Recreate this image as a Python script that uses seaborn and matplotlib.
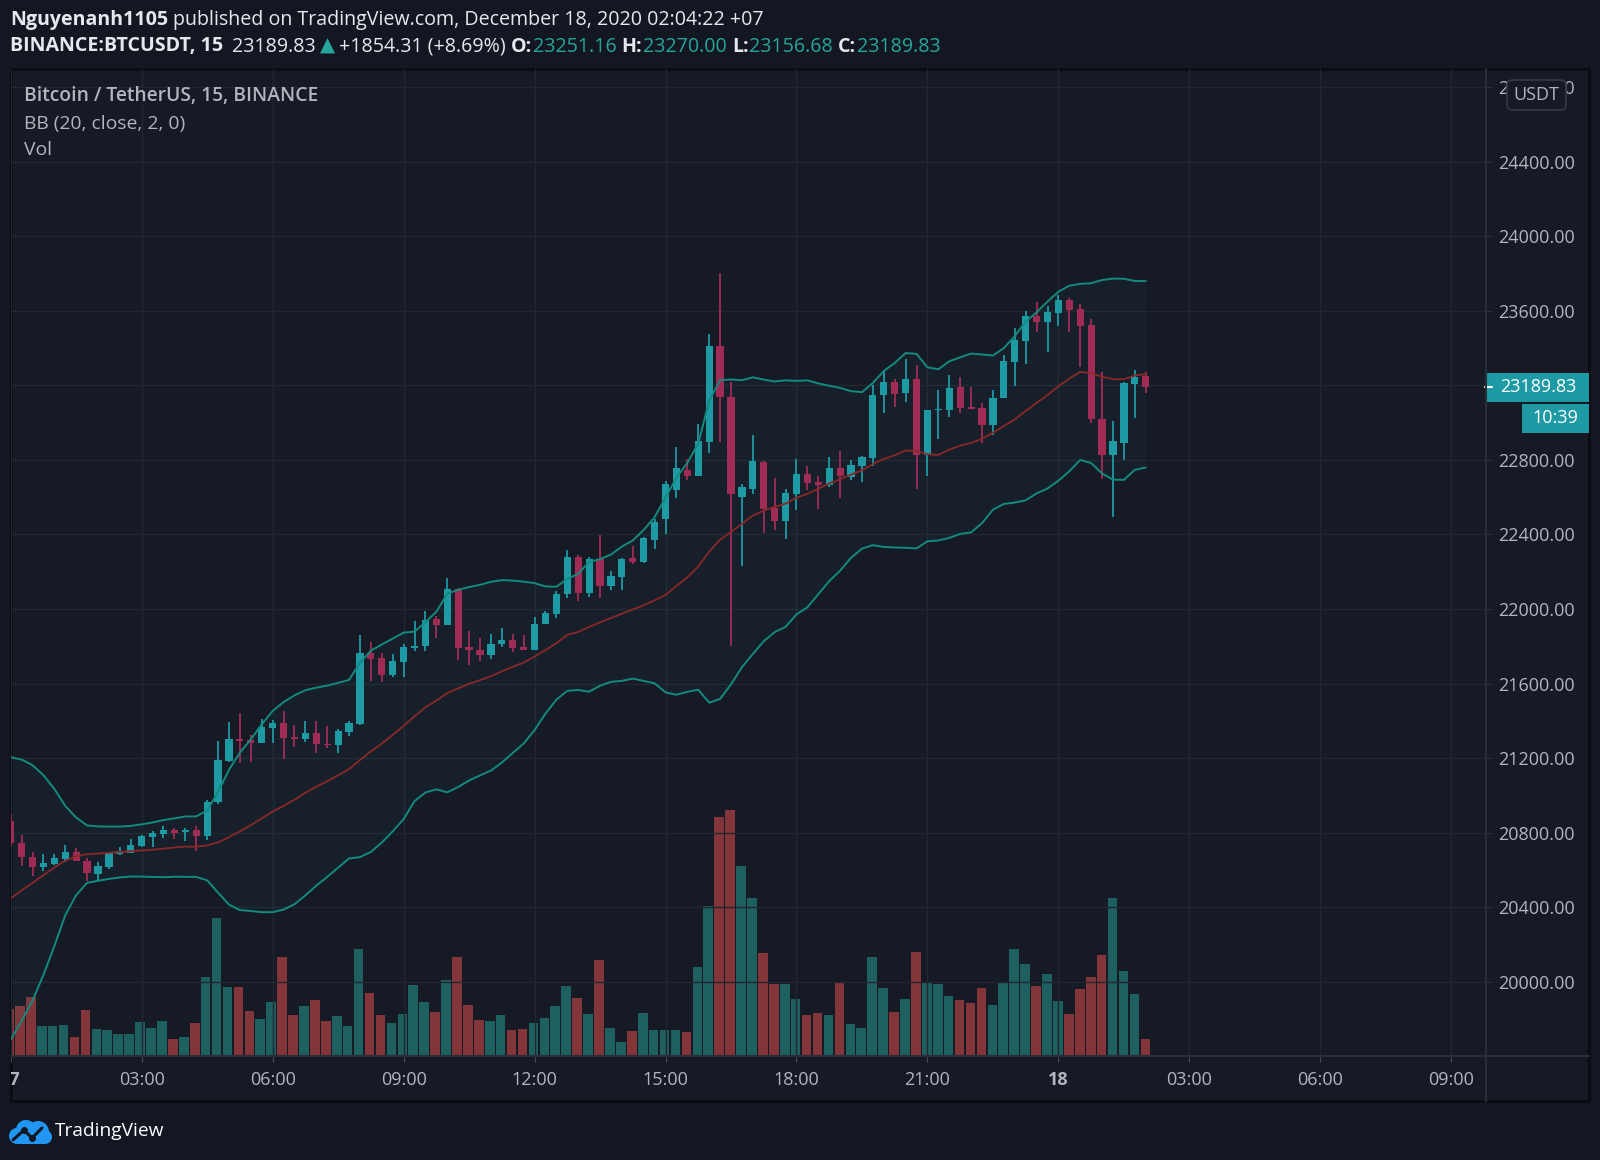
import numpy as np
import pandas as pd
import matplotlib.pyplot as plt
from matplotlib.patches import Rectangle, FancyBboxPatch, Circle
from matplotlib.lines import Line2D
from matplotlib.transforms import blended_transform_factory
import seaborn as sns

# BINANCE BTCUSDT, 15 min candles, Dec 17 00:00 -> Dec 18 02:00 (UTC+7)
opens = [20860, 20743, 20671, 20614, 20632, 20657, 20696, 20648, 20578, 20614,
         20685, 20693, 20730, 20779, 20793, 20814, 20802, 20814, 20784, 20963,
         21187, 21301, 21297, 21283, 21360, 21387, 21312, 21305, 21334, 21278,
         21269, 21342, 21383, 21764, 21737, 21646, 21715, 21791, 21799, 21946,
         21913, 22109, 21795, 21782, 21751, 21810, 21833, 21795, 21782, 21922,
         21973, 22078, 22281, 22085, 22270, 22126, 22172, 22276, 22254, 22371,
         22481, 22639, 22748, 22713, 22898, 23409, 23136, 22603, 22645, 22789,
         22541, 22472, 22617, 22726, 22680, 22666, 22754, 22707, 22767, 22808,
         23147, 23219, 23157, 23232, 22827, 23067, 23067, 23192, 23085, 23080,
         22987, 23131, 23325, 23440, 23573, 23539, 23587, 23659, 23611, 23525,
         23019, 22827, 22891, 23205, 23251.16]
highs = [20900, 20787, 20698, 20684, 20684, 20734, 20719, 20666, 20644, 20698,
         20725, 20764, 20787, 20809, 20838, 20823, 20823, 20838, 20975, 21289,
         21391, 21441, 21324, 21409, 21405, 21450, 21378, 21401, 21401, 21371,
         21356, 21401, 21860, 21822, 21764, 21759, 21810, 21937, 21991, 21964,
         22169, 22115, 21882, 21842, 21864, 21897, 21864, 21860, 21958, 21987,
         22096, 22314, 22290, 22281, 22399, 22202, 22276, 22339, 22385, 22481,
         22685, 22871, 22803, 22991, 23477, 23805, 23218, 22672, 22931, 22795,
         22705, 22645, 22803, 22767, 22713, 22814, 22849, 22800, 22822, 23204,
         23280, 23232, 23344, 23307, 23067, 23173, 23253, 23245, 23192, 23104,
         23173, 23365, 23507, 23600, 23645, 23627, 23685, 23667, 23637, 23557,
         23272, 23011, 23219, 23280, 23270.00]
lows = [20730, 20623, 20569, 20594, 20626, 20641, 20648, 20540, 20540, 20605,
        20680, 20689, 20721, 20725, 20773, 20764, 20757, 20703, 20761, 20951,
        21181, 21172, 21181, 21280, 21280, 21194, 21262, 21287, 21225, 21256,
        21229, 21316, 21375, 21614, 21606, 21637, 21637, 21777, 21774, 21846,
        21913, 21728, 21697, 21719, 21733, 21795, 21770, 21782, 21782, 21918,
        21951, 22060, 22045, 22066, 22058, 22104, 22104, 22240, 22246, 22322,
        22404, 22598, 22694, 22713, 22836, 22898, 21804, 22230, 22617, 22407,
        22426, 22377, 22530, 22639, 22535, 22653, 22598, 22694, 22680, 22767,
        23051, 23085, 23112, 22645, 22712, 22912, 23032, 23051, 23075, 22891,
        22933, 23131, 23197, 23317, 23485, 23379, 23517, 23485, 23299, 22997,
        22699, 22493, 22800, 23027, 23156.68]
closes = [20745, 20668, 20617, 20635, 20662, 20698, 20650, 20582, 20623, 20689,
          20702, 20734, 20782, 20800, 20814, 20800, 20814, 20784, 20966, 21190,
          21301, 21294, 21283, 21366, 21387, 21310, 21303, 21334, 21278, 21271,
          21347, 21387, 21764, 21733, 21646, 21719, 21795, 21800, 21940, 21915,
          22109, 21791, 21780, 21751, 21813, 21833, 21791, 21782, 21922, 21976,
          22082, 22281, 22085, 22270, 22126, 22175, 22270, 22254, 22380, 22467,
          22672, 22754, 22713, 22904, 23409, 23136, 22617, 22653, 22795, 22535,
          22472, 22623, 22726, 22677, 22666, 22754, 22713, 22773, 22814, 23150,
          23219, 23152, 23232, 22827, 23067, 23075, 23184, 23080, 23075, 22987,
          23133, 23331, 23445, 23573, 23539, 23592, 23659, 23605, 23520, 23019,
          22827, 22899, 23211, 23245, 23189.83]
volumes = [940, 986, 1174, 586, 586, 606, 366, 920, 540, 520,
           434, 434, 666, 554, 700, 340, 366, 646, 1566, 2760,
           1380, 1380, 886, 726, 1080, 1980, 812, 1000, 1114, 690,
           798, 588, 2140, 1250, 818, 656, 832, 1420, 1068, 872,
           1506, 1966, 1020, 722, 690, 818, 506, 528, 656, 750,
           1000, 1386, 1154, 830, 1908, 560, 276, 500, 846, 510,
           510, 510, 480, 1766, 3000, 4760, 4908, 3786, 3154, 2052,
           1428, 1428, 1142, 816, 858, 816, 1470, 642, 560, 1974,
           1350, 864, 1142, 2076, 1460, 1440, 1192, 1112, 1044, 1360,
           1014, 1480, 2126, 1838, 1390, 1630, 1102, 834, 1342, 1580,
           2016, 3150, 1690, 1232, 338]
# closes of the 19 candles before the first one on screen (only warm up the bands)
pre_closes = [19800, 19820, 19800, 19850, 19950, 20200, 20350, 20560, 20600, 20620,
              20650, 20700, 20720, 20700, 20680, 20720, 20780, 20840, 20860]

time_labels = ['17', '03:00', '06:00', '09:00', '12:00', '15:00', '18:00',
               '21:00', '18', '03:00', '06:00', '09:00']
time_label_pos = list(range(0, 133, 12))
price_ticks = list(range(20000, 24801, 400))

PAGE = '#131722'
PANEL = '#161a25'
BORDER = '#0a0c12'
GRID = '#222631'
SEP = '#2a2e39'
TEXT = '#b2b5be'
WHITE = '#e6e8ee'
UP = '#1d9aa3'
DOWN = '#a02c56'
VOL_UP = '#26a69a'
VOL_DOWN = '#ef5350'
BB_EDGE = '#138a7e'
BB_MID = '#8a2828'
HEAD_TEAL = '#26a69a'

sns.set_style('dark')
plt.rcParams['font.family'] = ['Open Sans', 'DejaVu Sans']

df = pd.DataFrame({'open': opens, 'high': highs, 'low': lows,
                   'close': closes, 'volume': volumes})
df['idx'] = np.arange(len(df))
df['up'] = df['close'] >= df['open']

all_close = pd.Series(pre_closes + closes)
mid = all_close.rolling(20).mean()
sd = all_close.rolling(20).std(ddof=0)
n_pre = len(pre_closes)
df['bb_mid'] = mid.iloc[n_pre:].to_numpy()
df['bb_up'] = (mid + 2 * sd).iloc[n_pre:].to_numpy()
df['bb_lo'] = (mid - 2 * sd).iloc[n_pre:].to_numpy()

W, H = 1600, 1160
fig = plt.figure(figsize=(W / 100, H / 100), dpi=100, facecolor=PAGE)


def fbox(l, t, r, b):
    return [l / W, 1 - b / H, (r - l) / W, (b - t) / H]


L, T, R, B = 10.7, 69.3, 1589, 1101
SEP_X, AXIS_Y = 1485.7, 1055.7
XLIM = (0.16, 135.15)
YLIM = (19603, 24896)

fig.add_artist(Rectangle((L / W, 1 - B / H), (R - L) / W, (B - T) / H,
                         transform=fig.transFigure, facecolor=PANEL,
                         edgecolor=BORDER, lw=2, zorder=0))

# volume pane (behind)
axv = fig.add_axes(fbox(L, T, SEP_X, AXIS_Y))
axv.patch.set_visible(False)
vol_colors = np.where(df['up'], VOL_UP, VOL_DOWN)
axv.bar(df['idx'], df['volume'], width=0.88, color=vol_colors, alpha=0.5, linewidth=0)
axv.set_xlim(XLIM)
axv.set_ylim(0, df['volume'].max() / 0.249)
axv.axis('off')

# price pane
ax = fig.add_axes(fbox(L, T, SEP_X, AXIS_Y))
ax.patch.set_visible(False)
ax.set_axisbelow(True)
ax.grid(True, color=GRID, lw=1)
for s in ax.spines.values():
    s.set_visible(False)

ax.fill_between(df['idx'], df['bb_lo'], df['bb_up'], color='#2a9d8f', alpha=0.05, lw=0, zorder=1)

candle_colors = np.where(df['up'], UP, DOWN)
ax.vlines(df['idx'], df['low'], df['high'], colors=candle_colors, lw=1.3, zorder=3)
body_bottom = np.minimum(df['open'], df['close'])
body_h = np.maximum((df['close'] - df['open']).abs(), 6)
ax.bar(df['idx'], body_h, bottom=body_bottom, width=0.66, color=candle_colors,
       linewidth=0, zorder=4)

sns.lineplot(data=df, x='idx', y='bb_up', ax=ax, color=BB_EDGE, lw=1.4, zorder=5)
sns.lineplot(data=df, x='idx', y='bb_lo', ax=ax, color=BB_EDGE, lw=1.4, zorder=5)
sns.lineplot(data=df, x='idx', y='bb_mid', ax=ax, color=BB_MID, lw=1.3, zorder=5)

ax.set_xlim(XLIM)
ax.set_ylim(YLIM)
ax.set_xlabel('')
ax.set_ylabel('')
ax.set_xticks(time_label_pos)
ax.tick_params(axis='x', length=0, labelbottom=False)
ax.yaxis.tick_right()
ax.set_yticks(price_ticks)
ax.set_yticklabels([f'{p:.2f}' for p in price_ticks])
ax.tick_params(axis='y', length=4.3, width=1, color=SEP, labelsize=13,
               labelcolor=TEXT, pad=5)

# last price + countdown labels
blend = blended_transform_factory(ax.transAxes, ax.transData)
last = df['close'].iloc[-1]
px = (YLIM[1] - YLIM[0]) / (AXIS_Y - T)
ax.add_patch(Rectangle((0.9995, last - 14.5 * px), 0.0705, 29 * px, transform=blend,
                       facecolor=UP, edgecolor='none', clip_on=False, zorder=10))
ax.plot([0.9995, 1.0045], [last, last], transform=blend, color='white', lw=1.5,
        clip_on=False, zorder=11)
ax.text(1.0355, last, f'{last:.2f}', transform=blend, ha='center', va='center',
        color='white', fontsize=13, clip_on=False, zorder=11)
cd = last - 31 * px
ax.add_patch(Rectangle((1.0246, cd - 14.5 * px), 0.0454, 29 * px, transform=blend,
                       facecolor=UP, edgecolor='none', clip_on=False, zorder=10))
ax.text(1.0473, cd, '10:39', transform=blend, ha='center', va='center',
        color='white', fontsize=13, clip_on=False, zorder=11)

# currency badge (covers the top price label, as in the app)
fig.add_artist(FancyBboxPatch((1507 / W, 1 - 110 / H), 59 / W, 30 / H,
                              boxstyle='round,pad=0,rounding_size=0.004',
                              transform=fig.transFigure, facecolor=PANEL,
                              edgecolor='#363a45', lw=1.2, zorder=20))
fig.text(1536.5 / W, 1 - 95 / H, 'USDT', ha='center', va='center', color=TEXT,
         fontsize=13, zorder=21)

# time axis strip
axt = fig.add_axes(fbox(L, AXIS_Y, SEP_X, B))
axt.patch.set_visible(False)
for s in axt.spines.values():
    s.set_visible(False)
axt.set_xlim(XLIM)
axt.set_ylim(0, 1)
axt.set_yticks([])
axt.set_xticks(time_label_pos)
axt.tick_params(axis='x', direction='in', top=True, bottom=False, labeltop=False,
                labelbottom=False, length=4, color='#4a4e59')
for pos, lab in zip(time_label_pos, time_labels):
    axt.text(pos, 0.46, lab, ha='center', va='center', fontsize=13, color=TEXT,
             fontweight='normal' if ':' in lab else 'bold', clip_on=True)

# pane separators
fig.add_artist(Line2D([L / W, R / W], [1 - AXIS_Y / H] * 2, color=SEP, lw=1.5))
fig.add_artist(Line2D([SEP_X / W] * 2, [1 - T / H, 1 - B / H], color=SEP, lw=1.5))

# legend lines inside the chart
fig.text(24.5 / W, 1 - 96.5 / H, 'Bitcoin / TetherUS, 15, BINANCE', color=TEXT,
         fontsize=13.9, fontweight='semibold', va='center')
fig.text(24.5 / W, 1 - 123.5 / H, 'BB (20, close, 2, 0)', color=TEXT, fontsize=13.9, va='center')
fig.text(24.5 / W, 1 - 150 / H, 'Vol', color=TEXT, fontsize=13.9, va='center')

renderer = fig.canvas.get_renderer()


def text_run(parts, x_px, y_px, size):
    x = x_px
    for s, color, weight, gap in parts:
        t = fig.text(x / W, 1 - y_px / H, s, color=color, fontsize=size,
                     fontweight=weight, va='center', ha='left')
        x += t.get_window_extent(renderer).width + gap


text_run([('Nguyenanh1105', WHITE, 'bold', 5),
          ('published on TradingView.com, December 18, 2020 02:04:22 +07', WHITE, 'normal', 0)],
         10, 19.5, 14.1)
o, h, lo, c = opens[-1], highs[-1], lows[-1], closes[-1]
text_run([('BINANCE:BTCUSDT, 15', WHITE, 'bold', 9),
          (f'{c:.2f}', WHITE, 'normal', 4),
          ('▲', HEAD_TEAL, 'normal', 4),
          ('+1854.31 (+8.69%)', WHITE, 'normal', 5),
          ('O:', WHITE, 'bold', 1), (f'{o:.2f}', HEAD_TEAL, 'normal', 5),
          ('H:', WHITE, 'bold', 1), (f'{h:.2f}', HEAD_TEAL, 'normal', 5),
          ('L:', WHITE, 'bold', 1), (f'{lo:.2f}', HEAD_TEAL, 'normal', 5),
          ('C:', WHITE, 'bold', 1), (f'{c:.2f}', HEAD_TEAL, 'normal', 0)],
         10, 46.5, 14.1)

# TradingView logo
axl = fig.add_axes(fbox(8, 1117, 52, 1145))
axl.set_xlim(0, 44)
axl.set_ylim(0, 28)
axl.axis('off')
for cx, cy, r in [(9, 9, 8), (18, 15, 10), (30, 13, 11), (37, 8, 7)]:
    axl.add_patch(Circle((cx, cy), r, color='#2196f3', lw=0))
axl.add_patch(Rectangle((9, 1), 28, 9, color='#2196f3', lw=0))
axl.plot([5, 16, 24, 34], [5, 15, 7, 17], color=PAGE, lw=2.2, solid_capstyle='round')
axl.plot([16, 24], [15, 7], 'o', color=PAGE, ms=4)
fig.text(55 / W, 1 - 1131 / H, 'TradingView', color='white', fontsize=13.8, va='center')

fig.savefig('out.png', dpi=100, facecolor=PAGE)
